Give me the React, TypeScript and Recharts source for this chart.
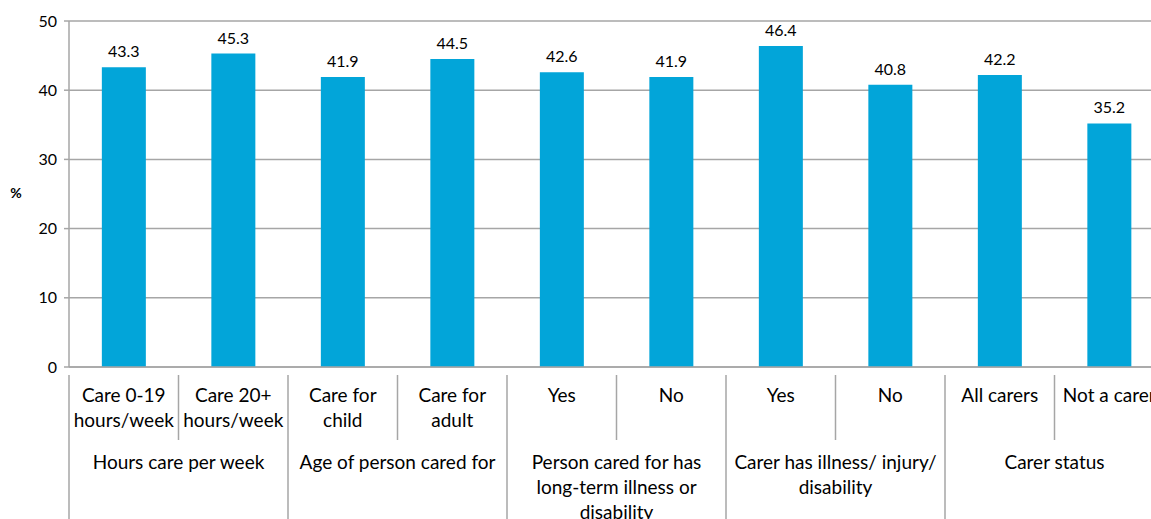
import { BarChart, Bar, XAxis, YAxis, CartesianGrid, LabelList } from 'recharts';

// categories (lower level), their groups and the values
const categories = [
    ['Care 0-19', 'hours/week'],
    ['Care 20+', 'hours/week'],
    ['Care for', 'child'],
    ['Care for', 'adult'],
    ['Yes'],
    ['No'],
    ['Yes'],
    ['No'],
    ['All carers'],
    ['Not a carer'],
];
const groups = [
    { lines: ['Hours care per week'], size: 2 },
    { lines: ['Age of person cared for'], size: 2 },
    { lines: ['Person cared for has', 'long-term illness or', 'disability'], size: 2 },
    { lines: ['Carer has illness/ injury/', 'disability'], size: 2 },
    { lines: ['Carer status'], size: 2 },
];
const values = [43.3, 45.3, 41.9, 44.5, 42.6, 41.9, 46.4, 40.8, 42.2, 35.2];
const yTicks = [0, 10, 20, 30, 40, 50];

const data = values.map((v, i) => ({ name: 'c' + i, value: v }));

const CAT_W = 109.5;
const GRID = '#A6A6A6';
const FONT = 'Lato, "Open Sans", sans-serif';

// which index starts each group
const groupStarts: Record<number, number> = {};
let acc = 0;
groups.forEach((g, gi) => {
    groupStarts[acc] = gi;
    acc += g.size;
});

function CategoryTick(props: any) {
    const { x, y, index } = props;
    const left = x - CAT_W / 2;
    const lines = categories[index];
    const gi = groupStarts[index];
    const g = gi !== undefined ? groups[gi] : null;
    return (
        <g>
            <line x1={left} x2={left} y1={y} y2={g ? 560 : y + 65} stroke={GRID} strokeWidth={1.5} />
            {index === categories.length - 1 && (
                <line x1={x + CAT_W / 2} x2={x + CAT_W / 2} y1={y} y2={560} stroke={GRID} strokeWidth={1.5} />
            )}
            {lines.map((l, i) => (
                <text key={i} x={x} y={y + 27} dy={i * 25} textAnchor="middle" fontSize={19} fill="#000" fontFamily={FONT}>
                    {l}
                </text>
            ))}
            {g &&
                g.lines.map((l, i) => (
                    <text
                        key={'g' + i}
                        x={left + (g.size * CAT_W) / 2}
                        y={y + 94}
                        dy={i * 25}
                        textAnchor="middle"
                        fontSize={19}
                        fill="#000"
                        fontFamily={FONT}
                    >
                        {l}
                    </text>
                ))}
        </g>
    );
}

const PercentLabel = () => (
    <text x={16} y={198} textAnchor="middle" fontSize={14} fontWeight="bold" fill="#000" fontFamily={FONT}>
        %
    </text>
);

export default function App() {
    return (
        <div style={{ position: 'absolute', left: 0, top: 0, width: 1151, height: 519, overflow: 'hidden', background: '#fff' }}>
            <BarChart
                width={1164}
                height={519}
                data={data}
                margin={{ top: 21, right: 0, left: 0, bottom: 0 }}
                barCategoryGap="30%"
            >
                <CartesianGrid vertical={false} stroke={GRID} strokeWidth={1.5} />
                <XAxis
                    dataKey="name"
                    interval={0}
                    height={152}
                    tickLine={false}
                    axisLine={{ stroke: GRID, strokeWidth: 1.5 }}
                    tick={<CategoryTick />}
                />
                <YAxis
                    domain={[0, 50]}
                    ticks={yTicks}
                    width={69}
                    tickSize={5}
                    tickMargin={7}
                    axisLine={{ stroke: GRID, strokeWidth: 1.5 }}
                    tickLine={{ stroke: GRID, strokeWidth: 1.5 }}
                    tick={{ fill: '#000', fontSize: 16, fontFamily: FONT }}
                    label={{ content: <PercentLabel /> }}
                />
                <Bar dataKey="value" fill="#02A5D9" isAnimationActive={false}>
                    <LabelList dataKey="value" position="top" offset={10} fill="#000" fontSize={16} fontFamily={FONT} formatter={(v: any) => Number(v).toFixed(1)} />
                </Bar>
            </BarChart>
        </div>
    );
}
